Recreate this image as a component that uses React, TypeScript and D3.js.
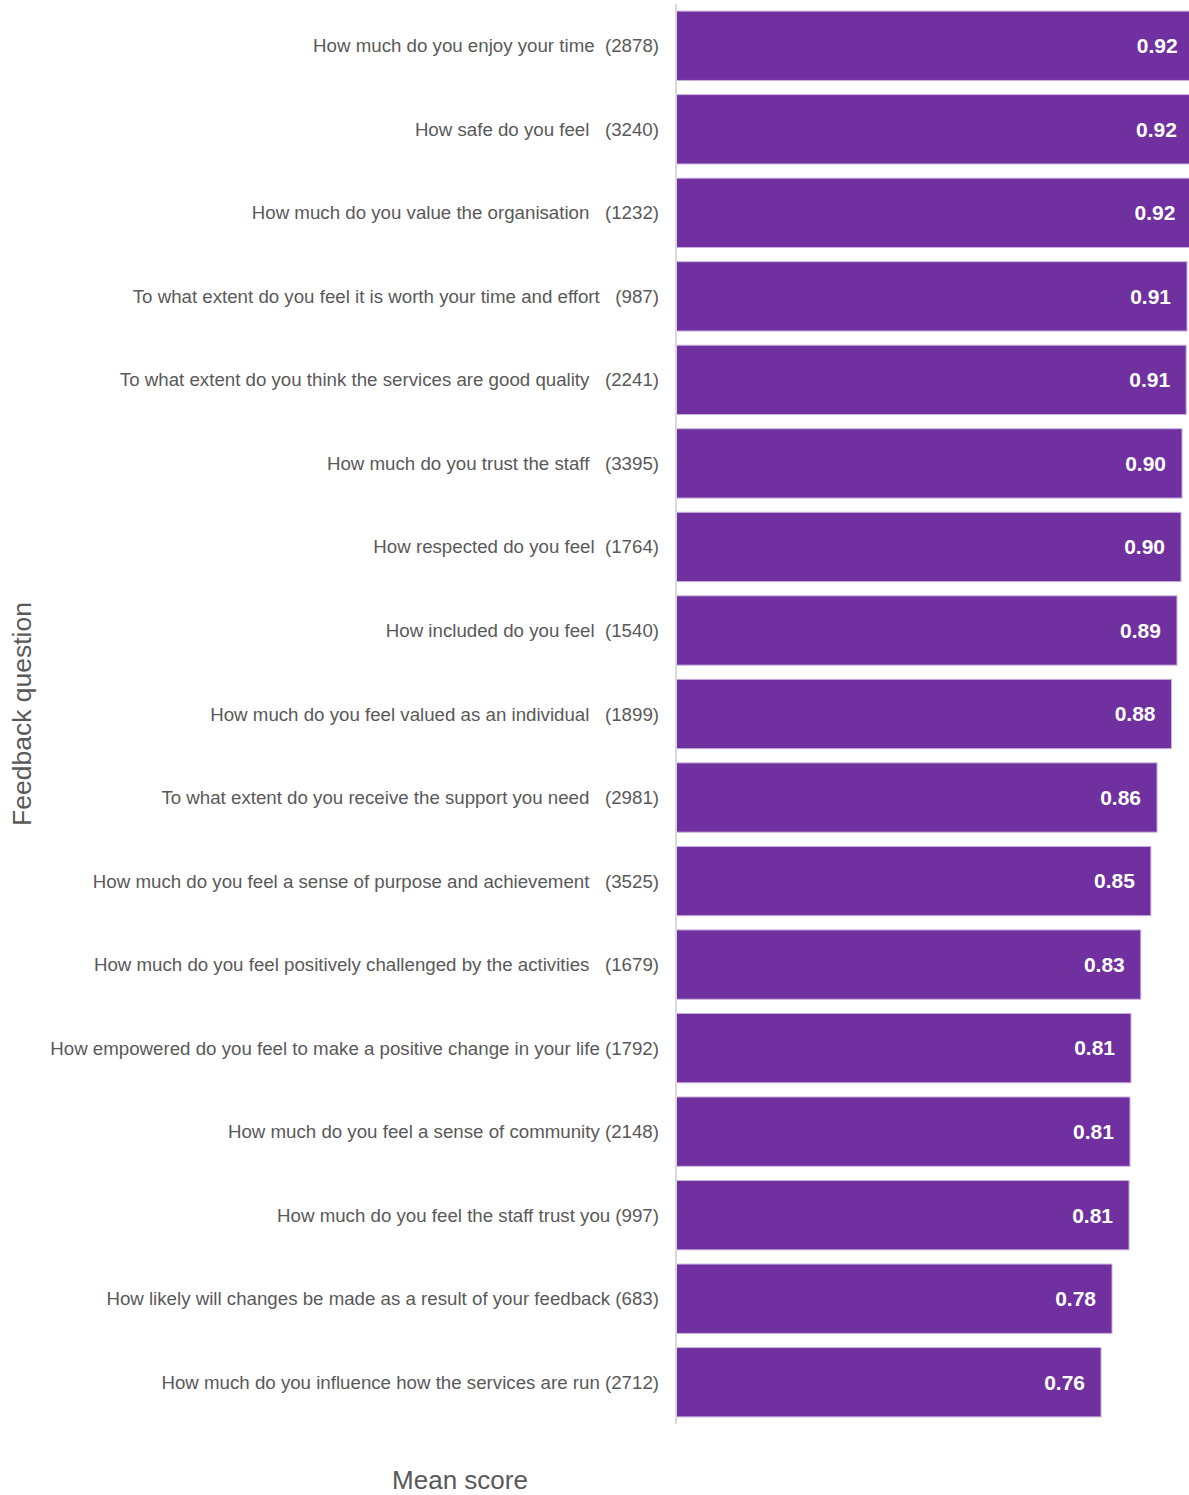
import React from "react";
import * as d3 from "d3";

const questions = [
  "How much do you enjoy your time  (2878)",
  "How safe do you feel   (3240)",
  "How much do you value the organisation   (1232)",
  "To what extent do you feel it is worth your time and effort   (987)",
  "To what extent do you think the services are good quality   (2241)",
  "How much do you trust the staff   (3395)",
  "How respected do you feel  (1764)",
  "How included do you feel  (1540)",
  "How much do you feel valued as an individual   (1899)",
  "To what extent do you receive the support you need   (2981)",
  "How much do you feel a sense of purpose and achievement   (3525)",
  "How much do you feel positively challenged by the activities   (1679)",
  "How empowered do you feel to make a positive change in your life (1792)",
  "How much do you feel a sense of community (2148)",
  "How much do you feel the staff trust you (997)",
  "How likely will changes be made as a result of your feedback (683)",
  "How much do you influence how the services are run (2712)",
];

const meanScores = [
  0.9245, 0.923, 0.9205, 0.9125, 0.911, 0.9036, 0.9018, 0.8946, 0.8849, 0.859,
  0.848, 0.83, 0.8125, 0.8107, 0.809, 0.7786, 0.759,
];

const W = 1189;
const H = 1495;
const axisX = 676;
const plotTop = 4;
const plotBottom = 1424;

export default function App() {
  const x = d3.scaleLinear().domain([0, 1]).range([axisX, axisX + 560]);
  const y = d3
    .scaleBand<string>()
    .domain(questions)
    .range([plotTop, plotBottom])
    .paddingInner(0.17)
    .paddingOuter(0.085);
  const fmt = d3.format(".2f");
  const font = "'Liberation Sans', Arial, Helvetica, sans-serif";

  return (
    <svg
      width={W}
      height={H}
      style={{ position: "absolute", left: 0, top: 0, background: "#fff" }}
      fontFamily={font}
    >
      <defs>
        <clipPath id="plotclip">
          <rect x={0} y={0} width={W} height={H} />
        </clipPath>
      </defs>
      <g clipPath="url(#plotclip)">
        {questions.map((q, i) => {
          const y0 = y(q)!;
          const bw = y.bandwidth();
          return (
            <g key={q}>
              <rect
                x={x(0)}
                y={y0}
                width={x(meanScores[i]) - x(0)}
                height={bw}
                fill="#7030A0"
                stroke="#c9b3dc"
                strokeWidth={1}
              />
              <text
                x={x(meanScores[i]) - 16}
                y={y0 + bw / 2}
                dy="0.35em"
                textAnchor="end"
                fill="#ffffff"
                fontWeight="bold"
                fontSize={21}
              >
                {fmt(meanScores[i])}
              </text>
              <text
                x={659}
                y={y0 + bw / 2}
                dy="0.35em"
                textAnchor="end"
                fill="#595959"
                fontSize={18.7}
                style={{ whiteSpace: "pre" }}
              >
                {q}
              </text>
            </g>
          );
        })}
      </g>
      <line
        x1={axisX}
        x2={axisX}
        y1={plotTop}
        y2={plotBottom}
        stroke="#d9d9d9"
        strokeWidth={2}
      />
      <text
        transform={`translate(31, 714) rotate(-90)`}
        textAnchor="middle"
        fill="#595959"
        fontSize={26.5}
      >
        Feedback question
      </text>
      <text x={460} y={1489} textAnchor="middle" fill="#595959" fontSize={26}>
        Mean score
      </text>
    </svg>
  );
}
